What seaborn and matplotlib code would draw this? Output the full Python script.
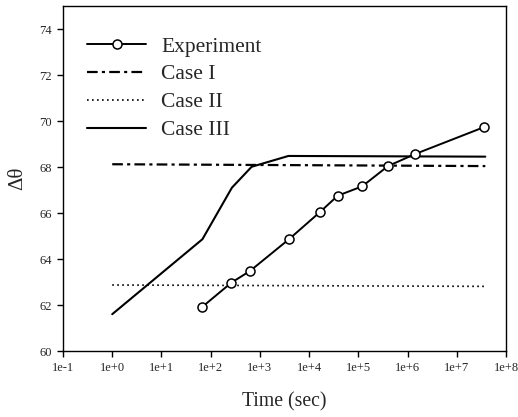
import matplotlib
matplotlib.use("Agg")
import matplotlib.pyplot as plt
import seaborn as sns
import pandas as pd
import numpy as np

# Data
exp_time = [66, 263, 630, 3900, 17000, 38000, 120000, 400000, 1.45e6, 3.55e7]
exp_dtheta = [61.9, 62.97, 63.48, 64.86, 66.06, 66.75, 67.16, 68.04, 68.57, 69.73]

case1_time = [1, 3.8e7]
case1_dtheta = [68.12, 68.04]

case2_time = [1, 3.8e7]
case2_dtheta = [62.87, 62.81]

case3_time = [1, 68, 270, 680, 3800, 3.8e7]
case3_dtheta = [61.6, 64.86, 67.1, 68.01, 68.48, 68.45]

xtick_vals = [1e-1, 1e0, 1e1, 1e2, 1e3, 1e4, 1e5, 1e6, 1e7, 1e8]
xtick_labels = ["1e-1", "1e+0", "1e+1", "1e+2", "1e+3", "1e+4", "1e+5", "1e+6", "1e+7", "1e+8"]
ytick_vals = [60, 62, 64, 66, 68, 70, 72, 74]

sns.set_theme(style="ticks")
plt.rcParams['font.family'] = ['Liberation Serif', 'DejaVu Serif']
plt.rcParams['mathtext.fontset'] = 'stix'

fig = plt.figure(figsize=(5.18, 4.17), dpi=100)
ax = fig.add_axes([63/518, 1-351/417, (506-63)/518, (351-6)/417])

d_exp = pd.DataFrame({"t": exp_time, "y": exp_dtheta})
d_c1 = pd.DataFrame({"t": case1_time, "y": case1_dtheta})
d_c2 = pd.DataFrame({"t": case2_time, "y": case2_dtheta})
d_c3 = pd.DataFrame({"t": case3_time, "y": case3_dtheta})

sns.lineplot(data=d_exp, x="t", y="y", ax=ax, color="black", lw=1.4,
             marker="o", markersize=6.5, markerfacecolor="white",
             markeredgecolor="black", markeredgewidth=1.1, label="Experiment", zorder=5)
sns.lineplot(data=d_c1, x="t", y="y", ax=ax, color="black", lw=1.6,
             linestyle=(0, (4.8, 1.9, 1.4, 1.9)), label="Case I")
sns.lineplot(data=d_c2, x="t", y="y", ax=ax, color="black", lw=1.2,
             linestyle=(0, (1, 2)), label="Case II")
sns.lineplot(data=d_c3, x="t", y="y", ax=ax, color="black", lw=1.5,
             linestyle="-", label="Case III")

ax.set_xscale("log")
ax.set_xlim(1e-1, 1e8)
ax.set_ylim(60, 75)
ax.set_xticks(xtick_vals)
ax.set_xticklabels(xtick_labels, fontsize=9)
ax.minorticks_off()
ax.set_yticks(ytick_vals)
ax.set_yticklabels([str(v) for v in ytick_vals], fontsize=9)
ax.tick_params(axis="both", direction="out", length=4, width=1, color="black", pad=4)
for s in ax.spines.values():
    s.set_color("black")
    s.set_linewidth(1.0)

ax.set_xlabel("Time (sec)", fontsize=14.2, labelpad=13)
ax.set_ylabel("Δθ", fontsize=15, labelpad=9)

leg = ax.legend(loc="upper left", bbox_to_anchor=(0.02, 0.955), frameon=False,
                fontsize=15.5, handlelength=2.75, handletextpad=0.7, labelspacing=0.36,
                borderaxespad=0.3)

fig.savefig("out.png", dpi=100)
